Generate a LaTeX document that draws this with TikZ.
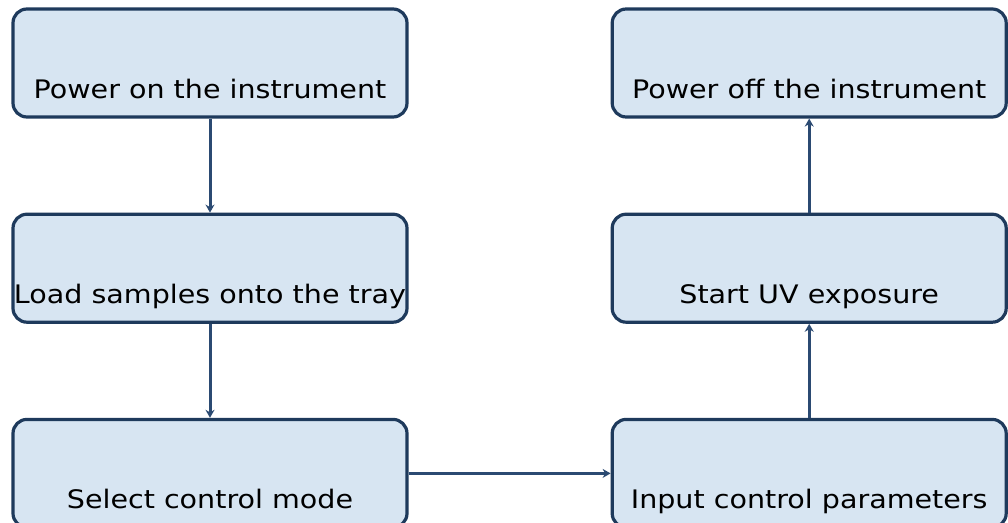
\documentclass[tikz,border=0pt]{standalone}
\usepackage{fontspec}
\setmainfont{DejaVu Sans}[FakeStretch=1.12]
\usetikzlibrary{arrows.meta,positioning}

\definecolor{boxfill}{HTML}{D7E5F2}
\definecolor{boxline}{HTML}{1E3A5C}
\definecolor{arrowline}{HTML}{2B4A72}

\begin{document}
\begin{tikzpicture}[x=1pt,y=-1pt]
		\tikzset{stepbox/.style={draw=boxline,fill=boxfill,line width=3.2pt,rounded corners=14pt,
				minimum width=394pt,inner xsep=0pt,inner ysep=5pt,text height=84pt,text depth=14pt,
				font=\fontsize{25.5}{30}\selectfont},
			flow/.style={draw=arrowline,line width=3pt,-{Stealth[length=8pt,width=9pt]}}}
		\useasboundingbox (0,0) rectangle (1008,522);

		\node [stepbox] (on) at (210,63) {Power on the instrument};
		\node [stepbox,below=94pt of on] (load) {Load samples onto the tray};
		\node [stepbox,below=94pt of load] (mode) {Select control mode};
		\node [stepbox,right=202pt of mode] (param) {Input control parameters};
		\node [stepbox,above=94pt of param] (uv) {Start UV exposure};
		\node [stepbox,above=94pt of uv] (off) {Power off the instrument};

		\draw [flow] (on) -- (load);
		\draw [flow] (load) -- (mode);
		\draw [flow] (mode) -- (param);
		\draw [flow] (param) -- (uv);
		\draw [flow] (uv) -- (off);
	\end{tikzpicture}
\end{document}
